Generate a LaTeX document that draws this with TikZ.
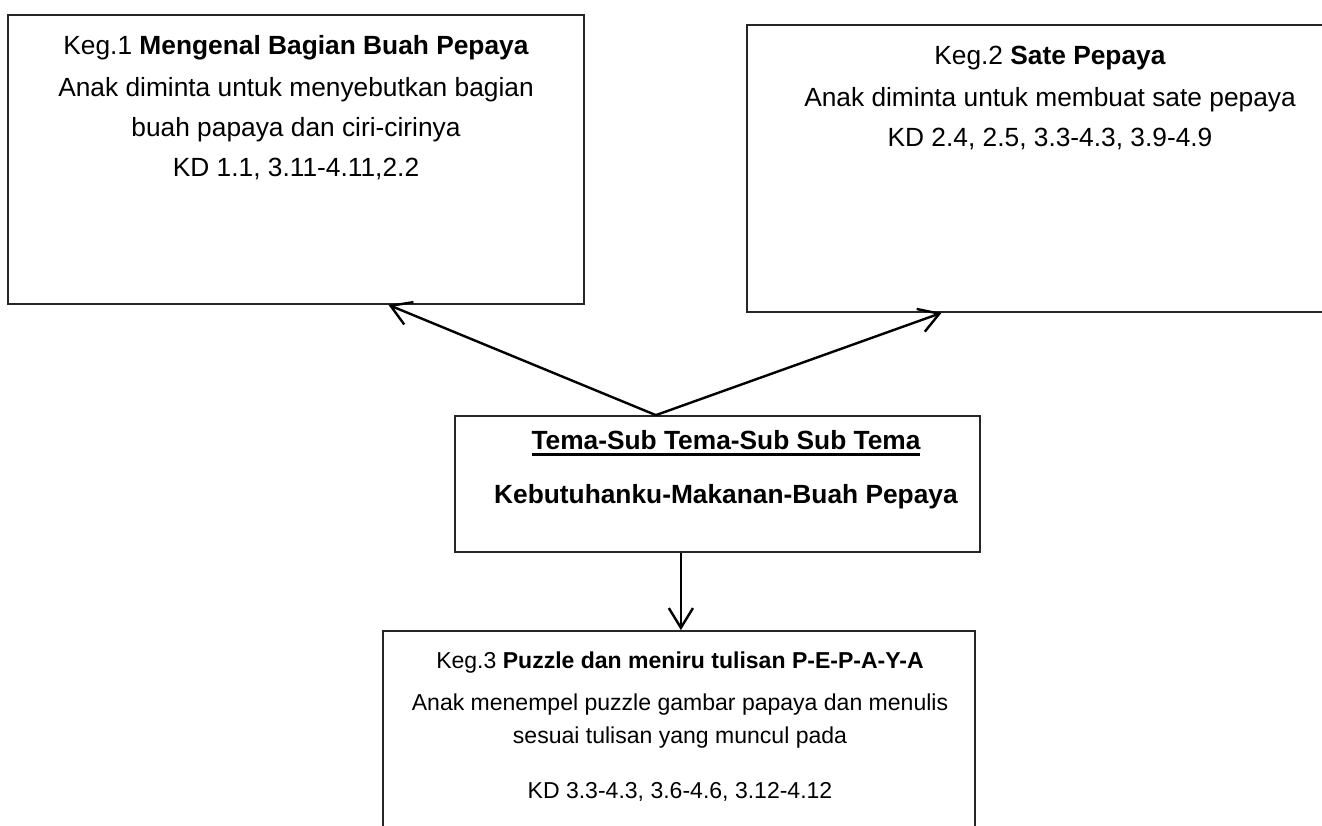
\documentclass[tikz,border=0pt]{standalone}
\usepackage{fontspec}
\setmainfont{Liberation Sans}
\usetikzlibrary{arrows.meta,calc,fit}
\newcommand\thickul[1]{\setbox0\hbox{#1}\rlap{\rule[-2.8pt]{\wd0}{1.2pt}}\box0}
\begin{document}
\begin{tikzpicture}[x=0.456pt,y=-0.456pt,
  box/.style={draw=black!85, line width=0.8pt, inner sep=0pt},
  txt/.style={anchor=mid, inner sep=0pt, font=\fontsize{12}{14}\selectfont},
  small/.style={txt, font=\fontsize{10.5}{12.5}\selectfont},
  arr/.style={draw=black, line width=1.1pt, -{Straight Barb[length=9pt,width=11pt]}}]
\useasboundingbox (0,0) rectangle (1322,825);
\node[box, fit={(8,15) (584,304)}] (k1) {};
\node[box, fit={(747,25) (1352,312)}] (k2) {};
\node[box, fit={(455,416) (980,552)}] (tm) {};
\node[box, fit={(383,631) (975,870)}] (k3) {};

\node[txt] (k1a) at (296,49) {Keg.1 \textbf{Mengenal Bagian Buah Pepaya}};
\node[txt] (k1b) at (296,91) {Anak diminta untuk menyebutkan bagian};
\node[txt] (k1c) at (296,131) {buah papaya dan ciri-cirinya};
\node[txt] (k1d) at (296,171) {KD 1.1, 3.11-4.11,2.2};

\node[txt] (k2a) at (1050,59) {Keg.2 \textbf{Sate Pepaya}};
\node[txt] (k2b) at (1050,101) {Anak diminta untuk membuat sate pepaya};
\node[txt] (k2c) at (1050,141) {KD 2.4, 2.5, 3.3-4.3, 3.9-4.9};

\node[txt] (tma) at (726,444) {\textbf{\thickul{Tema-Sub Tema-Sub Sub Tema}}};
\node[txt] (tmb) at (726,498) {\textbf{Kebutuhanku-Makanan-Buah Pepaya}};

\node[small] (k3a) at (680,663) {Keg.3 \textbf{Puzzle dan meniru tulisan P-E-P-A-Y-A}};
\node[small] (k3b) at (680,705) {Anak menempel puzzle gambar papaya dan menulis};
\node[small] (k3c) at (680,738) {sesuai tulisan yang muncul pada};
\node[small] (k3d) at (680,793) {KD 3.3-4.3, 3.6-4.6, 3.12-4.12};

\coordinate (apex) at ($(tm.north west)!0.383!(tm.north east)$);
\coordinate (down) at ($(tm.south west)!0.4305!(tm.south east)$);
\draw[arr] (apex) -- ($(k1.south west)!0.66!(k1.south east)$);
\draw[arr] (apex) -- ($(k2.south west)!0.322!(k2.south east)$);
\draw[arr] (down) -- (down |- k3.north);
\end{tikzpicture}
\end{document}
